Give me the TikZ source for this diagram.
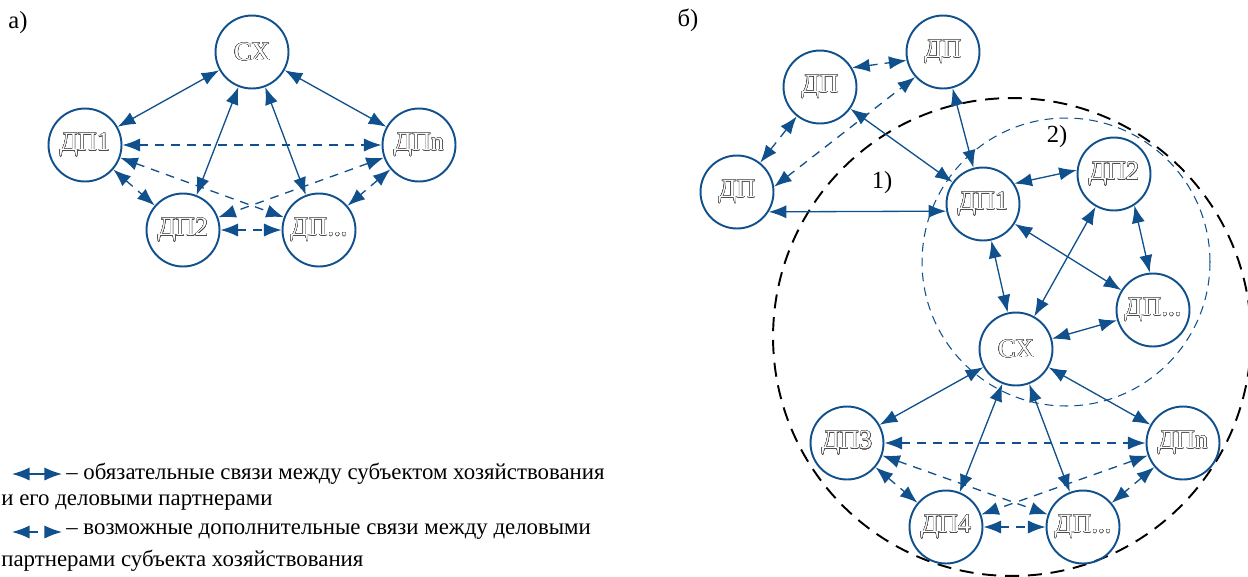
\documentclass[tikz,border=0pt]{standalone}
\usepackage{fontspec}
\setmainfont{Liberation Serif}
\usepackage{contour}
\contourlength{0.2pt}
\contournumber{24}
\usetikzlibrary{arrows.meta}
\definecolor{dpblue}{RGB}{16,80,140}
\tikzset{dpnode/.style={circle,draw=dpblue,line width=1.1pt,minimum size=1.46cm,
    inner sep=0pt,font=\fontsize{15}{18}\selectfont},
  dplink/.style={draw=dpblue,line width=0.75pt,
    {Latex[length=10pt,width=7.5pt]}-{Latex[length=10pt,width=7.5pt]}},
  dpmaybe/.style={dplink,dash pattern=on 5pt off 4pt},
  dplabel/.style={inner sep=0pt,font=\fontsize{14}{16}\selectfont},
  dplegend/.style={inner sep=0pt,anchor=west,font=\fontsize{13}{16}\selectfont}}
\newcommand{\hollow}[1]{{\color{white}\contour{black!70}{#1}}}

\begin{document}
\begin{tikzpicture}[x=0.02cm,y=-0.02cm]
  \useasboundingbox (0,0) rectangle (1248,576);

  % a)
  \node [dplabel] (la) at (18,23) {а)};
  \node [dpnode] (a-sx) at (252,52)  {\hollow{СХ}};
  \node [dpnode] (a-1)  at (85,145)  {\hollow{ДП1}};
  \node [dpnode] (a-n)  at (419,145) {\hollow{ДПn}};
  \node [dpnode] (a-2)  at (183,230) {\hollow{ДП2}};
  \node [dpnode] (a-x)  at (319,230) {\hollow{ДП...}};

  \draw [dplink] (a-sx) -- (a-1);
  \draw [dplink] (a-sx) -- (a-n);
  \draw [dplink] (a-sx) -- (a-2);
  \draw [dplink] (a-sx) -- (a-x);
  \draw [dpmaybe] (a-1) -- (a-n);
  \draw [dpmaybe] (a-1) -- (a-x);
  \draw [dpmaybe] (a-n) -- (a-2);
  \draw [dpmaybe] (a-1) -- (a-2);
  \draw [dpmaybe] (a-n) -- (a-x);
  \draw [dpmaybe] (a-2) -- (a-x);

  % b)
  \node [dplabel] (lb) at (688,20) {б)};
  \draw [black,line width=1.1pt,dash pattern=on 8pt off 5pt] (1012,337) circle (4.78cm);
  \draw [dpblue,line width=0.6pt,dash pattern=on 5pt off 3.5pt] (1066,262) circle (2.88cm);
  \node [dplabel] (r1) at (882,183)  {1)};
  \node [dplabel] (r2) at (1057,137) {2)};

  \node [dpnode] (b-t)  at (943,52)   {\hollow{ДП}};
  \node [dpnode] (b-u)  at (820,87)   {\hollow{ДП}};
  \node [dpnode] (b-l)  at (737,192)  {\hollow{ДП}};
  \node [dpnode] (b-1)  at (983,204)  {\hollow{ДП1}};
  \node [dpnode] (b-2)  at (1114,174) {\hollow{ДП2}};
  \node [dpnode] (b-r)  at (1153,310) {\hollow{ДП...}};
  \node [dpnode] (b-sx) at (1016,349) {\hollow{СХ}};
  \node [dpnode] (b-3)  at (847,443)  {\hollow{ДП3}};
  \node [dpnode] (b-n)  at (1183,443) {\hollow{ДПn}};
  \node [dpnode] (b-4)  at (946,527)  {\hollow{ДП4}};
  \node [dpnode] (b-x)  at (1083,527) {\hollow{ДП...}};

  \draw [dplink] (b-u) -- (b-1);
  \draw [dplink] (b-t) -- (b-1);
  \draw [dplink] (b-l.-32) -- (b-1.191);
  \draw [dplink] (b-1.33) -- (b-2.174);
  \draw [dplink] (b-1) -- (b-sx);
  \draw [dplink] (b-1) -- (b-r);
  \draw [dplink] (b-2) -- (b-sx);
  \draw [dplink] (b-2.-57) -- (b-r.95);
  \draw [dplink] (b-sx) -- (b-r);
  \draw [dplink] (b-sx) -- (b-3);
  \draw [dplink] (b-sx) -- (b-n);
  \draw [dplink] (b-sx) -- (b-4);
  \draw [dplink] (b-sx) -- (b-x);

  \draw [dpmaybe] (b-u.31) -- (b-t.193);
  \draw [dpmaybe] (b-l) -- (b-u);
  \draw [dpmaybe] (b-l.8) -- (b-t.222);
  \draw [dpmaybe] (b-3) -- (b-n);
  \draw [dpmaybe] (b-3) -- (b-x);
  \draw [dpmaybe] (b-n) -- (b-4);
  \draw [dpmaybe] (b-3) -- (b-4);
  \draw [dpmaybe] (b-n) -- (b-x);
  \draw [dpmaybe] (b-4) -- (b-x);

  % legend
  \coordinate (k1a) at (12,474);
  \coordinate (k1b) at (62,474);
  \coordinate (k2a) at (12,532);
  \coordinate (k2b) at (62,532);
  \draw [dplink]  (k1a) -- (k1b);
  \draw [dpmaybe] (k2a) -- (k2b);
  \node [dplegend] (t1) at (66,474) {– обязательные связи между субъектом хозяйствования};
  \node [dplegend] (t2) at (1,503)  {и его деловыми партнерами};
  \node [dplegend] (t3) at (66,532) {– возможные дополнительные связи между деловыми};
  \node [dplegend] (t4) at (1,561)  {партнерами субъекта хозяйствования};
\end{tikzpicture}
\end{document}
